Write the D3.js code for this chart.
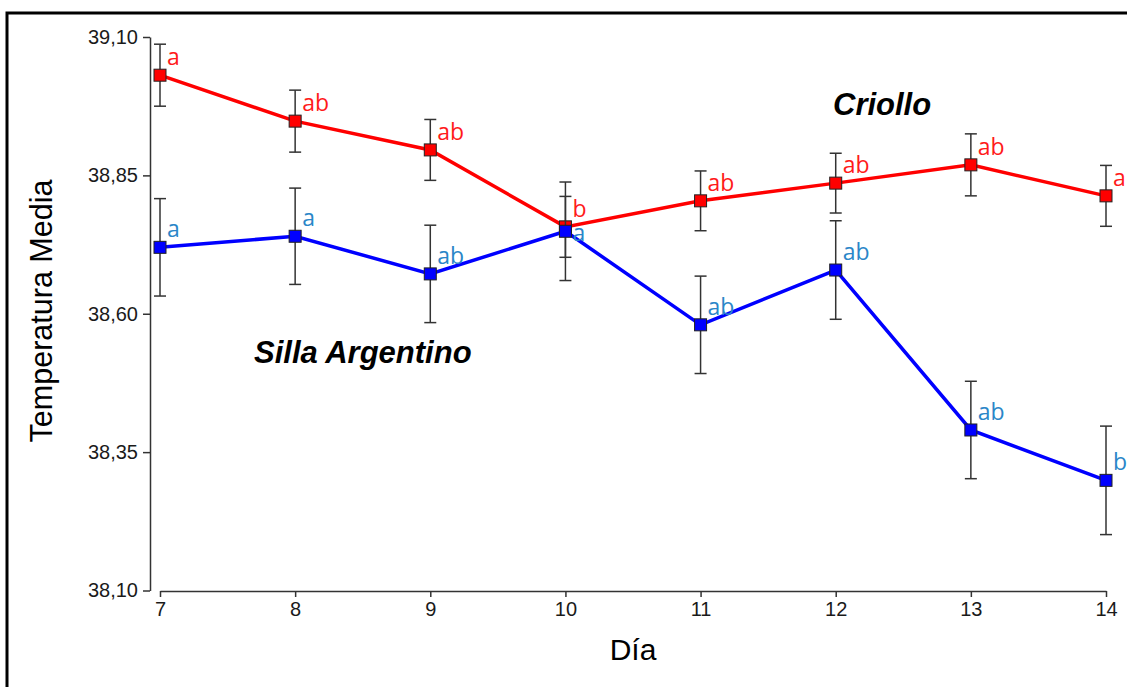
<!DOCTYPE html>
<html lang="es">
<head>
  <meta charset="UTF-8">
  <title>Temperatura Media por Día</title>
  <script src="https://d3js.org/d3.v7.min.js"></script>
  <style>
    body { margin: 0; background: #fff; }
    svg { display: block; }
    .axis path, .axis line { stroke: #333; stroke-width: 1.5; }
  </style>
</head>
<body>
  <svg width="1127" height="687"></svg>

  <script>
    // data
    const days = [7, 8, 9, 10, 11, 12, 13, 14];
    const yTicks = [38.10, 38.35, 38.60, 38.85, 39.10];

    const criolloMean = [39.031, 38.948, 38.896, 38.757, 38.804, 38.836, 38.869, 38.813];
    const criolloErr = [0.056, 0.056, 0.055, 0.055, 0.054, 0.054, 0.056, 0.055];
    const criolloLetters = ["a", "ab", "ab", "b", "ab", "ab", "ab", "ab"];

    const sillaMean = [38.720, 38.740, 38.672, 38.749, 38.580, 38.679, 38.390, 38.299];
    const sillaErr = [0.088, 0.087, 0.088, 0.089, 0.088, 0.089, 0.088, 0.098];
    const sillaLetters = ["a", "a", "ab", "a", "ab", "ab", "ab", "b"];

    const svg = d3.select("svg");

    // outer frame
    svg.append("rect")
      .attr("x", 7).attr("y", 13)
      .attr("width", 1140).attr("height", 700)
      .attr("fill", "none")
      .attr("stroke", "#000")
      .attr("stroke-width", 3);

    const x = d3.scaleLinear().domain([7, 14]).range([160, 1106]);
    const y = d3.scaleLinear().domain([38.10, 39.10]).range([590.5, 37]);

    const comma = d3.formatLocale({ decimal: ",", thousands: ".", grouping: [3], currency: ["", ""] }).format(".2f");

    // y axis
    svg.append("g")
      .attr("class", "axis")
      .attr("transform", "translate(150,0)")
      .call(d3.axisLeft(y).tickValues(yTicks).tickFormat(comma).tickSizeInner(7).tickSizeOuter(0).tickPadding(5))
      .selectAll("text")
      .attr("font-family", "Arial, 'Liberation Sans', sans-serif")
      .attr("font-size", 20)
      .attr("fill", "#1a1a1a");

    // x axis
    svg.append("g")
      .attr("class", "axis")
      .attr("transform", "translate(0,591)")
      .call(d3.axisBottom(x).tickValues(days).tickFormat(d3.format("d")).tickSizeInner(6).tickSizeOuter(0).tickPadding(5))
      .selectAll("text")
      .attr("font-family", "Arial, 'Liberation Sans', sans-serif")
      .attr("font-size", 20)
      .attr("fill", "#1a1a1a");

    const series = [
      { mean: criolloMean, err: criolloErr, letters: criolloLetters, other: sillaMean, below: false, color: "#ff0000", textColor: "#ff1a1a" },
      { mean: sillaMean, err: sillaErr, letters: sillaLetters, other: criolloMean, below: true, color: "#0000ff", textColor: "#2a86c8" }
    ];

    const line = d3.line()
      .x((d, i) => x(days[i]))
      .y(d => y(d));

    series.forEach(s => {
      const pts = days.map((d, i) => ({ day: d, mean: s.mean[i], err: s.err[i], letter: s.letters[i], other: s.other[i] }));

      // error bars
      const eb = svg.append("g").attr("stroke", "#333").attr("stroke-width", 1.5);
      pts.forEach(p => {
        eb.append("line")
          .attr("x1", x(p.day)).attr("x2", x(p.day))
          .attr("y1", y(p.mean + p.err)).attr("y2", y(p.mean - p.err));
        [p.mean + p.err, p.mean - p.err].forEach(v => {
          eb.append("line")
            .attr("x1", x(p.day) - 6).attr("x2", x(p.day) + 6)
            .attr("y1", y(v)).attr("y2", y(v));
        });
      });

      svg.append("path")
        .datum(s.mean)
        .attr("fill", "none")
        .attr("stroke", s.color)
        .attr("stroke-width", 3.5)
        .attr("d", line);

      svg.selectAll(null)
        .data(pts)
        .enter()
        .append("rect")
        .attr("x", d => x(d.day) - 6)
        .attr("y", d => y(d.mean) - 6)
        .attr("width", 12)
        .attr("height", 12)
        .attr("fill", s.color)
        .attr("stroke", "#222")
        .attr("stroke-width", 1);

      // letters sit up-right of the marker; when both series nearly meet, the lower one goes below
      svg.selectAll(null)
        .data(pts)
        .enter()
        .append("text")
        .attr("x", d => x(d.day) + 7)
        .attr("y", d => {
          const clash = Math.abs(y(d.mean) - y(d.other)) < 20;
          return clash && s.below ? y(d.mean) + 10 : y(d.mean) - 10;
        })
        .attr("fill", s.textColor)
        .style("font-family", "'Open Sans', sans-serif")
        .style("font-size", "23px")
        .text(d => d.letter);
    });

    // series names
    svg.append("text")
      .attr("x", 833).attr("y", 115)
      .style("font-family", "Arial, 'Liberation Sans', sans-serif")
      .style("font-size", "31px")
      .style("font-weight", "bold")
      .style("font-style", "italic")
      .text("Criollo");

    svg.append("text")
      .attr("x", 254).attr("y", 363)
      .style("font-family", "Arial, 'Liberation Sans', sans-serif")
      .style("font-size", "31px")
      .style("font-weight", "bold")
      .style("font-style", "italic")
      .text("Silla Argentino");

    // axis titles
    svg.append("text")
      .attr("x", 633).attr("y", 660)
      .attr("text-anchor", "middle")
      .style("font-family", "Arial, 'Liberation Sans', sans-serif")
      .style("font-size", "30px")
      .text("Día");

    svg.append("text")
      .attr("transform", "translate(52,311) rotate(-90)")
      .attr("text-anchor", "middle")
      .style("font-family", "Arial, 'Liberation Sans', sans-serif")
      .style("font-size", "30.5px")
      .text("Temperatura Media");
  </script>
</body>
</html>
